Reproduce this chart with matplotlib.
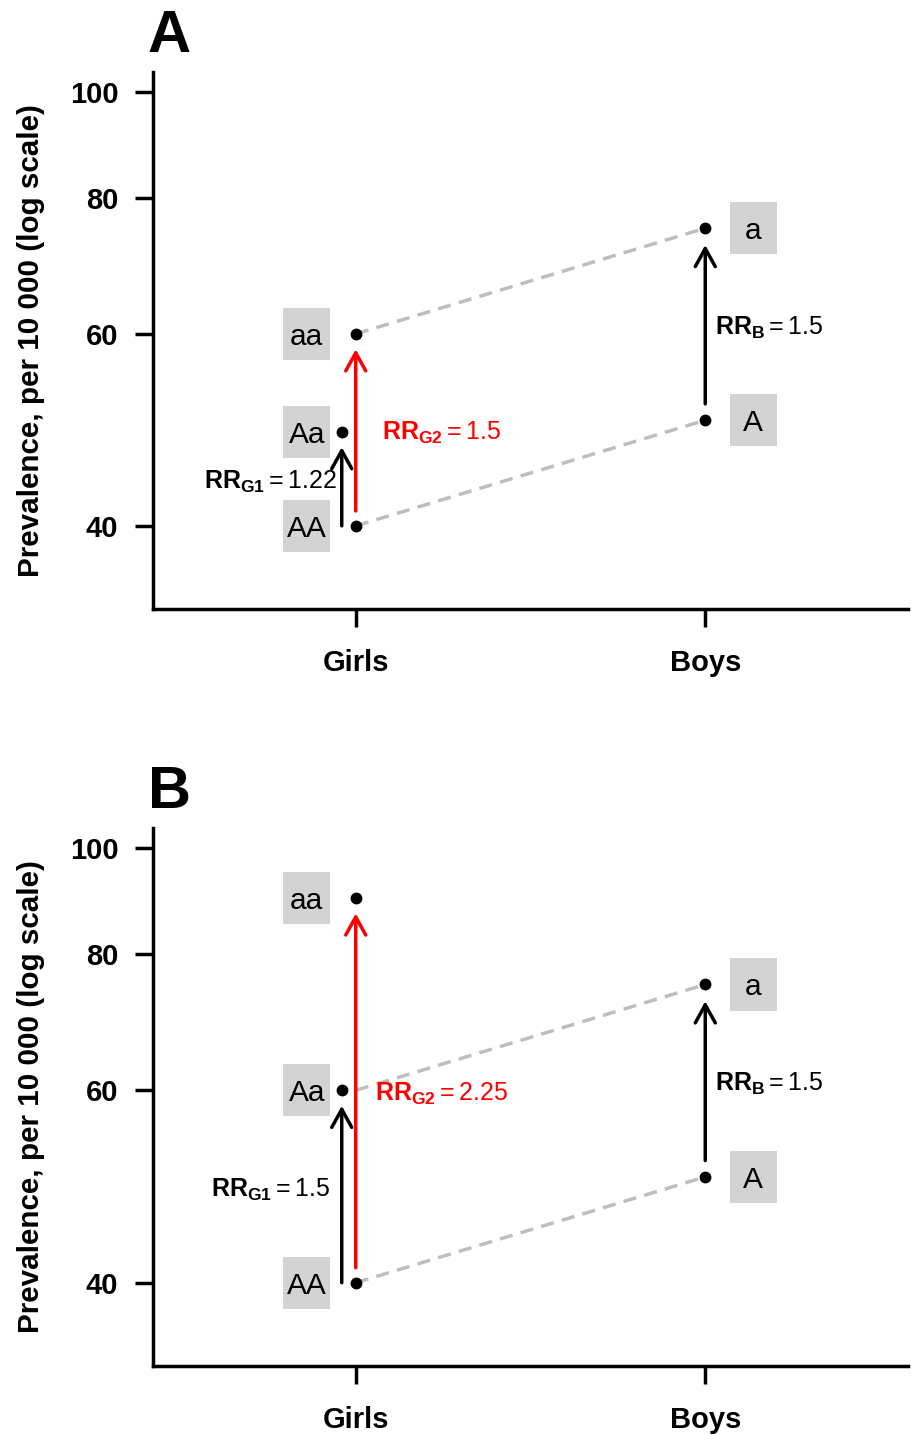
import matplotlib
matplotlib.use('Agg')
import matplotlib.pyplot as plt
from matplotlib.patches import Rectangle

plt.rcParams['font.family'] = ['Liberation Sans', 'DejaVu Sans']
plt.rcParams['mathtext.fontset'] = 'custom'
plt.rcParams['mathtext.rm'] = 'Liberation Sans'
plt.rcParams['mathtext.bf'] = 'Liberation Sans:bold'
plt.rcParams['mathtext.it'] = 'Liberation Sans:italic'
plt.rcParams['lines.scale_dashes'] = False

# data
groups = ['Girls', 'Boys']
girl_genotypes = ['AA', 'Aa', 'aa']
boy_alleles = ['A', 'a']
girls_A = [40, 48.8, 60]
girls_B = [40, 60, 90]
boys = [50, 75]
rr_g1 = ['1.22', '1.5']
rr_g2 = ['1.5', '2.25']
rr_b = '1.5'
yticks = [40, 60, 80, 100]

W, H = 911, 1435
fig = plt.figure(figsize=(W / 100, H / 100), dpi=100)

gray = '#BEBEBE'
box_col = '#D3D3D3'
lw = 2.5


def box_label(ax, x, y, txt):
    hw = 0.0673
    fy = 1.0566
    ax.add_patch(Rectangle((x - hw, y / fy), 2 * hw, y * fy - y / fy,
                           facecolor=box_col, edgecolor='none', zorder=1))
    ax.text(x, y, txt, ha='center', va='center_baseline', fontsize=21.5, zorder=2)


def arrow(ax, x, y0, y1, col):
    ax.annotate('', xy=(x, y1), xytext=(x, y0),
                arrowprops=dict(arrowstyle='->,head_length=0.65,head_width=0.36',
                                lw=lw, color=col, shrinkA=0, shrinkB=0,
                                mutation_scale=20), zorder=3)


def panel(top_px, bot_px, letter, girls, g1, g2, g1_x, g2_x):
    ax = fig.add_axes([153 / W, 1 - bot_px / H, (908 - 153) / W, (bot_px - top_px) / H])
    ax.set_yscale('log')
    ax.set_xlim(0.42, 2.58)
    ax.set_ylim(33.56, 104.3)
    ax.set_yticks(yticks)
    ax.set_yticklabels([str(v) for v in yticks])
    ax.yaxis.set_minor_locator(matplotlib.ticker.NullLocator())
    ax.set_xticks([1, 2])
    ax.set_xticklabels(groups)
    for s in ['top', 'right']:
        ax.spines[s].set_visible(False)
    for s in ['left', 'bottom']:
        ax.spines[s].set_linewidth(lw)
        ax.spines[s].set_capstyle('projecting')
    ax.tick_params(width=lw, length=13, labelsize=21)
    ax.tick_params(axis='y', pad=12)
    ax.tick_params(axis='x', pad=16)
    for lab in ax.get_xticklabels() + ax.get_yticklabels():
        lab.set_fontweight('bold')
    ax.set_ylabel('Prevalence, per 10 000 (log scale)', fontsize=21.3,
                  fontweight='bold', labelpad=18)

    gx = [1, 0.96, 1]
    # dashed connections
    ax.plot([1, 2], [girls[0], boys[0]], color=gray, lw=lw, dashes=(9.5, 6), zorder=1)
    ax.plot([1, 2], [girls[1] if letter == 'B' else girls[2], boys[1]],
            color=gray, lw=lw, dashes=(9.5, 6), zorder=1)

    # points
    ax.plot(gx, girls, 'o', color='black', ms=7.5, zorder=4)
    ax.plot([2, 2], boys, 'o', color='black', ms=7.5, zorder=4)

    # labels
    for v, t in zip(girls, girl_genotypes):
        box_label(ax, 0.86, v, t)
    for v, t in zip(boys, boy_alleles):
        box_label(ax, 2.137, v, t)

    # arrows
    arrow(ax, 0.96, girls[0], girls[1] / 1.033, 'black')
    arrow(ax, 1.0, girls[0] * 1.032, girls[2] / 1.033, 'red')
    arrow(ax, 2.0, boys[0] * 1.035, boys[1] / 1.036, 'black')

    ax.text(g1_x, (girls[0] * girls[1]) ** 0.5 * 0.993, r'$\mathbf{RR_{G1}} = %s$' % g1,
            ha='right', va='center', fontsize=18, zorder=5)
    ax.text(g2_x, (girls[0] * girls[2]) ** 0.5 * 0.993, r'$\mathbf{RR_{G2}} = %s$' % g2,
            ha='left', va='center', fontsize=18, color='red', zorder=5)
    ax.text(2.029, (boys[0] * boys[1]) ** 0.5 * 0.993, r'$\mathbf{RR_{B}} = %s$' % rr_b,
            ha='left', va='center', fontsize=18, zorder=5)

    fig.text(148 / W, 1 - (top_px - 20) / H, letter, fontsize=43,
             fontweight='bold', ha='left', va='baseline')
    return ax


panel(72, 609, 'A', girls_A, rr_g1[0], rr_g2[0], 0.946, 1.075)
panel(828, 1366, 'B', girls_B, rr_g1[1], rr_g2[1], 0.925, 1.054)

fig.savefig('out.png', dpi=100)
